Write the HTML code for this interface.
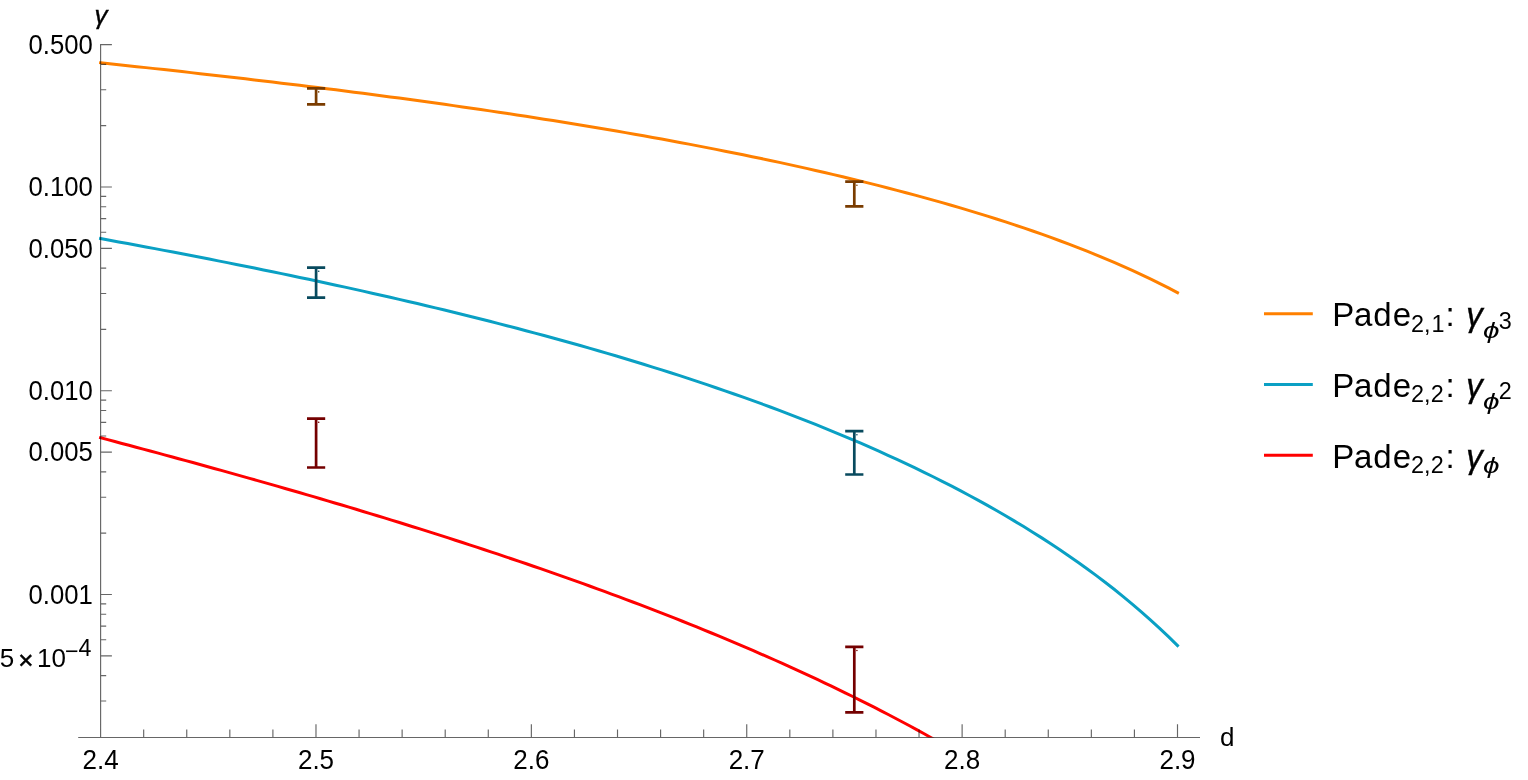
<!DOCTYPE html>
<html><head><meta charset="utf-8"><title>plot</title><style>html,body{margin:0;padding:0;background:#fff}body{width:1528px;height:780px;overflow:hidden}</style></head><body>
<svg width="1528" height="780" viewBox="0 0 1528 780" style="display:block" font-family='"Liberation Sans", sans-serif'>
<rect width="1528" height="780" fill="#fff"/>
<defs><clipPath id="c"><rect x="78" y="44" width="1123" height="693.5"/></clipPath></defs>
<g clip-path="url(#c)" fill="none" stroke-linecap="square" stroke-linejoin="round" stroke-width="3">
<path d="M100.60 62.78 L109.65 63.74 L118.70 64.70 L127.75 65.67 L136.80 66.65 L145.85 67.63 L154.90 68.62 L163.95 69.61 L173.00 70.61 L182.05 71.61 L191.10 72.63 L200.15 73.65 L209.19 74.67 L218.24 75.70 L227.29 76.74 L236.34 77.79 L245.39 78.85 L254.44 79.91 L263.49 80.98 L272.54 82.06 L281.59 83.15 L290.64 84.24 L299.69 85.34 L308.74 86.46 L317.79 87.58 L326.84 88.71 L335.89 89.85 L344.94 91.00 L353.99 92.16 L363.04 93.33 L372.09 94.51 L381.14 95.70 L390.19 96.90 L399.24 98.11 L408.29 99.33 L417.34 100.57 L426.38 101.81 L435.43 103.07 L444.48 104.34 L453.53 105.62 L462.58 106.91 L471.63 108.22 L480.68 109.54 L489.73 110.87 L498.78 112.22 L507.83 113.58 L516.88 114.95 L525.93 116.34 L534.98 117.74 L544.03 119.16 L553.08 120.59 L562.13 122.04 L571.18 123.50 L580.23 124.98 L589.28 126.48 L598.33 127.99 L607.38 129.52 L616.43 131.07 L625.48 132.64 L634.53 134.22 L643.57 135.82 L652.62 137.45 L661.67 139.09 L670.72 140.75 L679.77 142.43 L688.82 144.13 L697.87 145.85 L706.92 147.60 L715.97 149.37 L725.02 151.16 L734.07 152.97 L743.12 154.81 L752.17 156.67 L761.22 158.55 L770.27 160.47 L779.32 162.40 L788.37 164.37 L797.42 166.36 L806.47 168.38 L815.52 170.43 L824.57 172.51 L833.62 174.62 L842.67 176.76 L851.72 178.94 L860.76 181.14 L869.81 183.39 L878.86 185.66 L887.91 187.97 L896.96 190.33 L906.01 192.71 L915.06 195.14 L924.11 197.61 L933.16 200.12 L942.21 202.68 L951.26 205.28 L960.31 207.93 L969.36 210.63 L978.41 213.37 L987.46 216.17 L996.51 219.03 L1005.56 221.94 L1014.61 224.91 L1023.66 227.94 L1032.71 231.04 L1041.76 234.20 L1050.81 237.44 L1059.86 240.75 L1068.91 244.13 L1077.95 247.60 L1087.00 251.15 L1096.05 254.79 L1105.10 258.53 L1114.15 262.37 L1123.20 266.31 L1132.25 270.37 L1141.30 274.55 L1150.35 278.86 L1159.40 283.30 L1168.45 287.90 L1177.50 292.65" stroke="#ff8000"/>
<path d="M100.60 238.60 L109.65 240.25 L118.70 241.91 L127.75 243.58 L136.80 245.26 L145.85 246.95 L154.90 248.65 L163.95 250.36 L173.00 252.08 L182.05 253.81 L191.10 255.56 L200.15 257.31 L209.19 259.08 L218.24 260.85 L227.29 262.64 L236.34 264.44 L245.39 266.26 L254.44 268.08 L263.49 269.92 L272.54 271.78 L281.59 273.65 L290.64 275.53 L299.69 277.42 L308.74 279.34 L317.79 281.26 L326.84 283.21 L335.89 285.16 L344.94 287.14 L353.99 289.13 L363.04 291.14 L372.09 293.17 L381.14 295.21 L390.19 297.27 L399.24 299.35 L408.29 301.45 L417.34 303.57 L426.38 305.71 L435.43 307.87 L444.48 310.05 L453.53 312.25 L462.58 314.47 L471.63 316.72 L480.68 318.99 L489.73 321.28 L498.78 323.59 L507.83 325.93 L516.88 328.29 L525.93 330.68 L534.98 333.09 L544.03 335.53 L553.08 338.00 L562.13 340.49 L571.18 343.01 L580.23 345.56 L589.28 348.14 L598.33 350.75 L607.38 353.39 L616.43 356.06 L625.48 358.76 L634.53 361.50 L643.57 364.27 L652.62 367.07 L661.67 369.91 L670.72 372.78 L679.77 375.69 L688.82 378.64 L697.87 381.62 L706.92 384.65 L715.97 387.72 L725.02 390.82 L734.07 393.97 L743.12 397.17 L752.17 400.41 L761.22 403.69 L770.27 407.02 L779.32 410.40 L788.37 413.83 L797.42 417.31 L806.47 420.84 L815.52 424.43 L824.57 428.07 L833.62 431.77 L842.67 435.53 L851.72 439.35 L860.76 443.23 L869.81 447.17 L878.86 451.18 L887.91 455.26 L896.96 459.41 L906.01 463.64 L915.06 467.94 L924.11 472.32 L933.16 476.77 L942.21 481.32 L951.26 485.95 L960.31 490.67 L969.36 495.48 L978.41 500.39 L987.46 505.41 L996.51 510.53 L1005.56 515.76 L1014.61 521.10 L1023.66 526.56 L1032.71 532.16 L1041.76 537.88 L1050.81 543.74 L1059.86 549.74 L1068.91 555.90 L1077.95 562.22 L1087.00 568.71 L1096.05 575.37 L1105.10 582.23 L1114.15 589.28 L1123.20 596.55 L1132.25 604.05 L1141.30 611.79 L1150.35 619.78 L1159.40 628.06 L1168.45 636.64 L1177.50 645.53" stroke="#0aa0c4"/>
<path d="M100.60 437.80 L107.70 439.67 L114.79 441.55 L121.89 443.43 L128.98 445.32 L136.08 447.21 L143.17 449.11 L150.27 451.01 L157.37 452.92 L164.46 454.84 L171.56 456.76 L178.65 458.69 L185.75 460.62 L192.85 462.56 L199.94 464.51 L207.04 466.46 L214.13 468.43 L221.23 470.39 L228.32 472.37 L235.42 474.35 L242.52 476.34 L249.61 478.34 L256.71 480.35 L263.80 482.36 L270.90 484.38 L277.99 486.41 L285.09 488.45 L292.19 490.49 L299.28 492.55 L306.38 494.61 L313.47 496.68 L320.57 498.76 L327.67 500.85 L334.76 502.95 L341.86 505.06 L348.95 507.18 L356.05 509.31 L363.14 511.44 L370.24 513.59 L377.34 515.75 L384.43 517.92 L391.53 520.10 L398.62 522.29 L405.72 524.49 L412.82 526.70 L419.91 528.93 L427.01 531.16 L434.10 533.41 L441.20 535.67 L448.29 537.94 L455.39 540.22 L462.49 542.52 L469.58 544.83 L476.68 547.15 L483.77 549.48 L490.87 551.83 L497.96 554.19 L505.06 556.57 L512.16 558.96 L519.25 561.36 L526.35 563.78 L533.44 566.22 L540.54 568.67 L547.64 571.13 L554.73 573.61 L561.83 576.11 L568.92 578.62 L576.02 581.15 L583.11 583.69 L590.21 586.25 L597.31 588.83 L604.40 591.43 L611.50 594.05 L618.59 596.68 L625.69 599.33 L632.78 602.00 L639.88 604.69 L646.98 607.40 L654.07 610.13 L661.17 612.88 L668.26 615.65 L675.36 618.45 L682.46 621.26 L689.55 624.09 L696.65 626.95 L703.74 629.83 L710.84 632.74 L717.93 635.66 L725.03 638.62 L732.13 641.59 L739.22 644.59 L746.32 647.62 L753.41 650.68 L760.51 653.76 L767.61 656.86 L774.70 660.00 L781.80 663.16 L788.89 666.36 L795.99 669.58 L803.08 672.83 L810.18 676.12 L817.28 679.43 L824.37 682.78 L831.47 686.16 L838.56 689.58 L845.66 693.03 L852.75 696.51 L859.85 700.04 L866.95 703.60 L874.04 707.20 L881.14 710.83 L888.23 714.51 L895.33 718.23 L902.43 722.00 L909.52 725.80 L916.62 729.65 L923.71 733.55 L930.81 737.49 L937.90 741.49 L945.00 745.53" stroke="#ff0000"/>
</g>
<path d="M100.6 44.58h11.3M100.6 187.00h11.3M100.6 248.33h11.3M100.6 390.75h11.3M100.6 452.08h11.3M100.6 594.50h11.3M100.6 655.83h11.3M100.6 64.33h5.6M100.6 89.79h5.6M100.6 125.67h5.6M100.6 196.32h5.6M100.6 206.75h5.6M100.6 218.56h5.6M100.6 232.20h5.6M100.6 268.08h5.6M100.6 293.54h5.6M100.6 329.42h5.6M100.6 400.07h5.6M100.6 410.50h5.6M100.6 422.31h5.6M100.6 435.95h5.6M100.6 471.83h5.6M100.6 497.29h5.6M100.6 533.17h5.6M100.6 603.82h5.6M100.6 614.25h5.6M100.6 626.06h5.6M100.6 639.70h5.6M100.6 675.58h5.6M100.6 701.04h5.6M100.60 737.5v-13.3M143.68 737.5v-8.0M186.75 737.5v-8.0M229.83 737.5v-8.0M272.90 737.5v-8.0M315.98 737.5v-13.3M359.06 737.5v-8.0M402.13 737.5v-8.0M445.21 737.5v-8.0M488.28 737.5v-8.0M531.36 737.5v-13.3M574.44 737.5v-8.0M617.51 737.5v-8.0M660.59 737.5v-8.0M703.66 737.5v-8.0M746.74 737.5v-13.3M789.82 737.5v-8.0M832.89 737.5v-8.0M875.97 737.5v-8.0M919.04 737.5v-8.0M962.12 737.5v-13.3M1005.20 737.5v-8.0M1048.27 737.5v-8.0M1091.35 737.5v-8.0M1134.42 737.5v-8.0M1177.50 737.5v-13.3M78.2 737.5H1200M100.6 44V737.5" stroke="#666" stroke-width="1.15" fill="none" style="mix-blend-mode:multiply"/>
<path d="M307.0 88.3h18.2M307.0 104.4h18.2M316.1 88.3V104.4" stroke="#7a3c00" stroke-width="2.7" fill="none"/><circle cx="318.7" cy="91.9" r="0.8" fill="#7a3c00"/>
<path d="M845.2 181.6h18.2M845.2 206.4h18.2M854.3 181.6V206.4" stroke="#7a3c00" stroke-width="2.7" fill="none"/><circle cx="856.9" cy="185.2" r="0.8" fill="#7a3c00"/>
<path d="M307.0 267.7h18.2M307.0 297.6h18.2M316.1 267.7V297.6" stroke="#084a5e" stroke-width="2.7" fill="none"/><circle cx="318.7" cy="271.3" r="0.8" fill="#084a5e"/>
<path d="M845.2 431.1h18.2M845.2 474.5h18.2M854.3 431.1V474.5" stroke="#084a5e" stroke-width="2.7" fill="none"/><circle cx="856.9" cy="434.7" r="0.8" fill="#084a5e"/>
<path d="M307.0 418.6h18.2M307.0 467.5h18.2M316.1 418.6V467.5" stroke="#740000" stroke-width="2.7" fill="none"/><circle cx="318.7" cy="422.2" r="0.8" fill="#740000"/>
<path d="M845.2 646.9h18.2M845.2 712.3h18.2M854.3 646.9V712.3" stroke="#740000" stroke-width="2.7" fill="none"/><circle cx="856.9" cy="650.5" r="0.8" fill="#740000"/>
<text transform="translate(28.5,53.9) scale(0.99,1.05)" font-size="26">0.500</text>
<text transform="translate(28.5,196.3) scale(0.99,1.05)" font-size="26">0.100</text>
<text transform="translate(28.5,257.6) scale(0.99,1.05)" font-size="26">0.050</text>
<text transform="translate(28.5,400.1) scale(0.99,1.05)" font-size="26">0.010</text>
<text transform="translate(28.5,461.4) scale(0.99,1.05)" font-size="26">0.005</text>
<text transform="translate(28.5,603.8) scale(0.99,1.05)" font-size="26">0.001</text>
<text x="-0.2" y="667" font-size="26">5</text>
<text x="18.3" y="668.9" font-size="26" stroke="#000" stroke-width="0.5">×</text>
<text x="37" y="667" font-size="26">10</text>
<text x="65" y="658.7" font-size="23.2">−<tspan dy="-2.4">4</tspan></text>
<text transform="translate(100.6,768.8) scale(1,1.045)" font-size="26" text-anchor="middle">2.4</text>
<text transform="translate(316.0,768.8) scale(1,1.045)" font-size="26" text-anchor="middle">2.5</text>
<text transform="translate(531.4,768.8) scale(1,1.045)" font-size="26" text-anchor="middle">2.6</text>
<text transform="translate(746.7,768.8) scale(1,1.045)" font-size="26" text-anchor="middle">2.7</text>
<text transform="translate(962.1,768.8) scale(1,1.045)" font-size="26" text-anchor="middle">2.8</text>
<text transform="translate(1177.5,768.8) scale(1,1.045)" font-size="26" text-anchor="middle">2.9</text>
<text x="1219.9" y="745.7" font-size="26">d</text>
<text x="94.6" y="23.6" font-size="26" font-style="italic" stroke="#000" stroke-width="0.4">γ</text>
<path d="M1264 313.85H1312.8" stroke="#ff8000" stroke-width="3"/>
<text x="1332.3 1354.1 1373.2 1392.8" y="325.8" font-size="33">Pade</text>
<text x="1410.9 1423.9 1431.6" y="331.6" font-size="23.4">2,1</text>
<text x="1445.4" y="325.8" font-size="33">:</text>
<text x="1466.2" y="325.8" font-size="33" font-style="italic" stroke="#000" stroke-width="0.4">γ</text>
<text x="1498.7" y="328.50" font-size="23.4">3</text>
<text transform="translate(1483,338.2) scale(1.27,0.97)" font-size="23.4" font-style="italic">ϕ</text>
<path d="M1264 384.5H1312.8" stroke="#0aa0c4" stroke-width="3"/>
<text x="1332.3 1354.1 1373.2 1392.8" y="396.6" font-size="33">Pade</text>
<text x="1410.9 1423.9 1430.8" y="402.4" font-size="23.4">2,2</text>
<text x="1445.4" y="396.6" font-size="33">:</text>
<text x="1466.2" y="396.6" font-size="33" font-style="italic" stroke="#000" stroke-width="0.4">γ</text>
<text x="1498.7" y="399.30" font-size="23.4">2</text>
<text transform="translate(1483,409.0) scale(1.27,0.97)" font-size="23.4" font-style="italic">ϕ</text>
<path d="M1264 455.15H1312.8" stroke="#ff0000" stroke-width="3"/>
<text x="1332.3 1354.1 1373.2 1392.8" y="467.5" font-size="33">Pade</text>
<text x="1410.9 1423.9 1430.8" y="473.3" font-size="23.4">2,2</text>
<text x="1445.4" y="467.5" font-size="33">:</text>
<text x="1466.2" y="467.5" font-size="33" font-style="italic" stroke="#000" stroke-width="0.4">γ</text>
<text transform="translate(1483,473.2) scale(1.27,0.97)" font-size="23.4" font-style="italic">ϕ</text>
</svg>
</body></html>
